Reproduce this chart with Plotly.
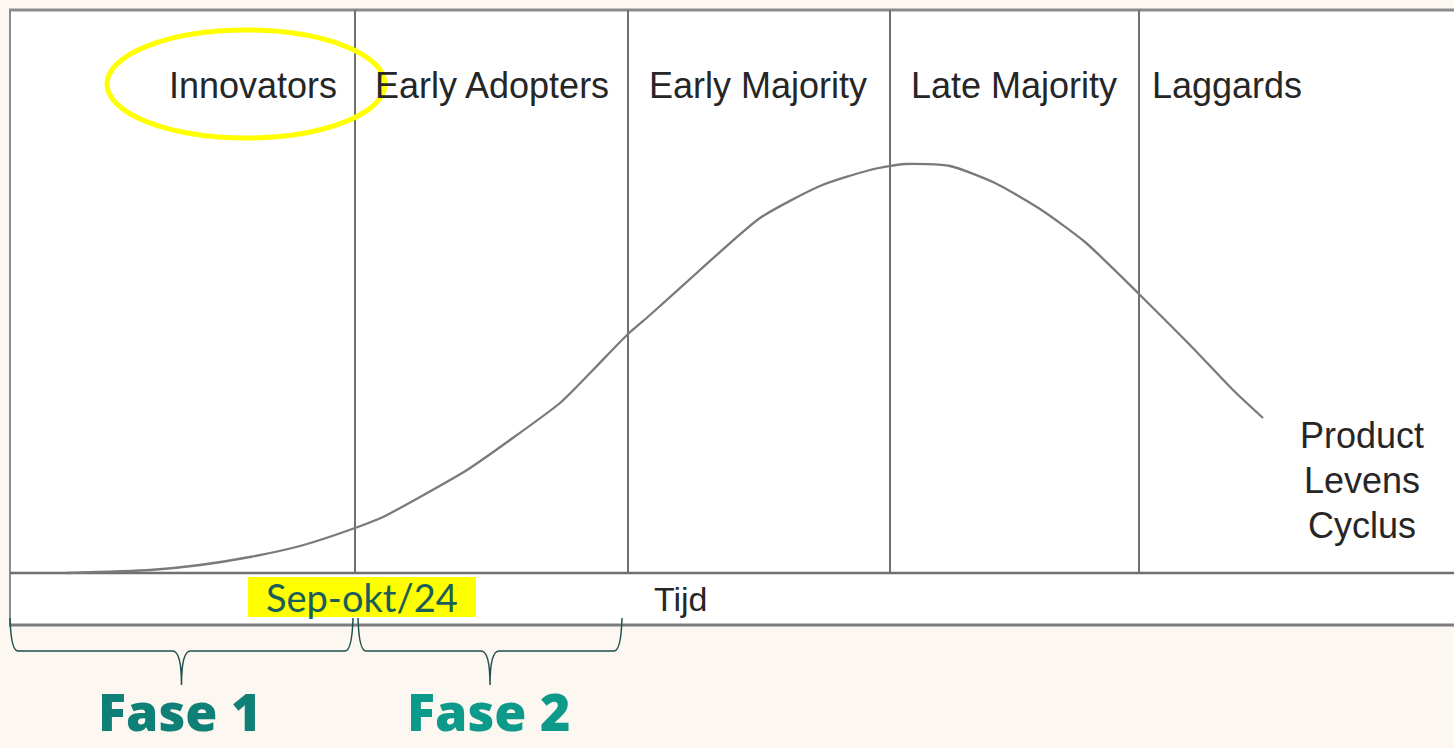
import plotly.graph_objects as go

# ---- data (x = time axis position, y = curve height, screen units) ----
stages = ["Innovators", "Early Adopters", "Early Majority", "Late Majority", "Laggards"]
stage_label_x = [253, 492, 758, 1014, 1150]
stage_bounds = [355, 628, 890, 1139]

curve_x = [66, 150, 200, 250, 300, 355, 383, 420, 467, 510, 560, 593, 628, 650, 700,
           760, 820, 870, 905, 950, 995, 1040, 1085, 1139, 1190, 1233, 1263]
curve_y = [573, 570, 565, 557, 546, 528, 517, 497, 470, 440, 403, 370, 334, 315, 270,
           218, 186, 170, 164, 166, 183, 209, 242, 294, 345, 390, 418]

curve_label = ["Product", "Levens", "Cyclus"]
axis_label = "Tijd"
date_label = "Sep-okt/24"
phases = ["Fase 1", "Fase 2"]
phase_spans = [(10, 353), (358, 622)]
phase_colors = ["#0E8078", "#0E9A8A"]

BG = "#FCF7F0"
LINE = "#707070"
TEXT = "#262626"
BRACE = "#1E4F4F"

fig = go.Figure()

fig.add_trace(go.Scatter(x=curve_x, y=curve_y, mode="lines",
                         line=dict(color="#7a7a7a", width=2.3, shape="spline", smoothing=0.6),
                         hoverinfo="skip", showlegend=False))

shapes = []
# white diagram box
shapes.append(dict(type="rect", x0=10, x1=1470, y0=10, y1=625, fillcolor="white",
                   line=dict(width=0), layer="below"))
# frame lines
shapes.append(dict(type="line", x0=9, x1=1470, y0=10, y1=10, line=dict(color="#8c8c8c", width=3), layer="below"))
shapes.append(dict(type="line", x0=10, x1=10, y0=9, y1=626, line=dict(color="#8c8c8c", width=2), layer="below"))
shapes.append(dict(type="line", x0=9, x1=1470, y0=625, y1=625, line=dict(color="#7c7c7c", width=3), layer="below"))
shapes.append(dict(type="line", x0=10, x1=1470, y0=573, y1=573, line=dict(color=LINE, width=2.5), layer="below"))
for b in stage_bounds:
    shapes.append(dict(type="line", x0=b, x1=b, y0=10, y1=573, line=dict(color=LINE, width=2), layer="below"))

# yellow highlight box behind the date label
shapes.append(dict(type="rect", x0=248, x1=476, y0=577, y1=617, fillcolor="#FFFF00",
                   line=dict(width=0), layer="above"))

# yellow ellipse round "Innovators"
shapes.append(dict(type="circle", x0=107, x1=385, y0=30, y1=138,
                   line=dict(color="#FFFF00", width=5), layer="above"))

# braces under the two phases
for (a, b) in phase_spans:
    m = (a + b) / 2
    path = (f"M {a},618 Q {a+1},651 {a+8},651 L {m-9},651 Q {m},651 {m},685 "
            f"Q {m},651 {m+9},651 L {b-8},651 Q {b-1},651 {b},618")
    shapes.append(dict(type="path", path=path, line=dict(color=BRACE, width=1.5), layer="above"))

ann = []
for name, x in zip(stages, stage_label_x):
    anchor = "left" if name == "Laggards" else "center"
    ann.append(dict(x=x, y=85, text=name, showarrow=False, xanchor=anchor, yanchor="middle",
                    font=dict(family="Liberation Sans", size=36, color=TEXT)))
for i, line in enumerate(curve_label):
    ann.append(dict(x=1362, y=435 + 45 * i, text=line, showarrow=False, xanchor="center", yanchor="middle",
                    font=dict(family="Liberation Sans", size=36, color=TEXT)))
ann.append(dict(x=681, y=599, text=axis_label, showarrow=False, xanchor="center", yanchor="middle",
                font=dict(family="Liberation Sans", size=34, color=TEXT)))
ann.append(dict(x=362, y=597, text=date_label, showarrow=False, xanchor="center", yanchor="middle",
                font=dict(family="Lato", size=38, color="#1A5E5A")))
for (a, b), name, col in zip(phase_spans, phases, phase_colors):
    ann.append(dict(x=(a + b) / 2 - 2, y=748, text=name, showarrow=False,
                    xanchor="center", yanchor="bottom",
                    font=dict(family="Open Sans", size=52, color=col, weight=800)))

fig.update_layout(
    width=1454, height=748,
    margin=dict(l=0, r=0, t=0, b=0),
    paper_bgcolor=BG, plot_bgcolor=BG,
    shapes=shapes, annotations=ann,
    xaxis=dict(range=[0, 1454], visible=False, fixedrange=True),
    yaxis=dict(range=[748, 0], visible=False, fixedrange=True),
    showlegend=False,
)

fig.write_html(
    "out.html",
    config={"displayModeBar": False},
    post_script="document.body.style.margin='0';document.body.style.background='#FCF7F0';",
)
